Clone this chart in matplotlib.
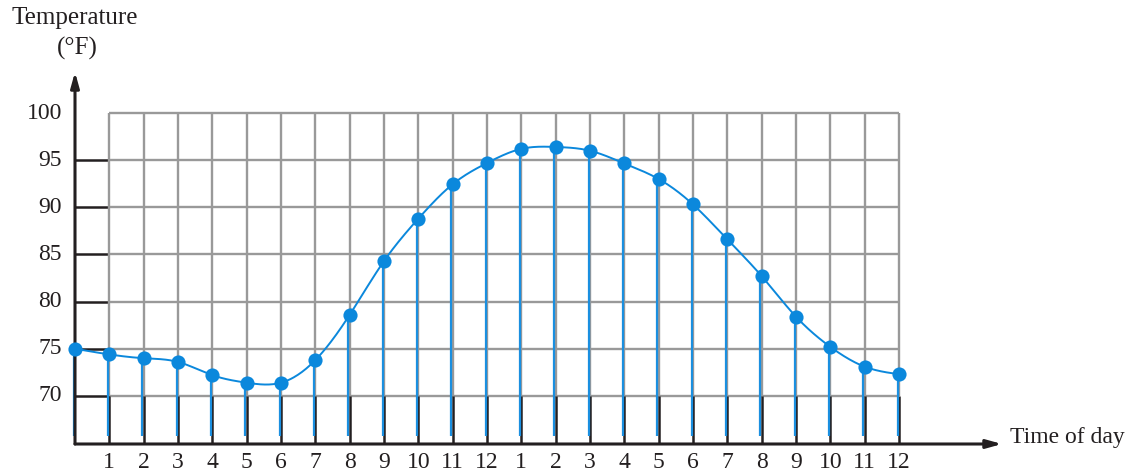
import numpy as np
import matplotlib
matplotlib.use("Agg")
import matplotlib.pyplot as plt
from matplotlib.transforms import offset_copy

# ---- data ----
hours = list(range(25))
temps = [75.0, 74.4, 74.0, 73.6, 72.2, 71.4, 71.4, 73.8, 78.6, 84.3, 88.8, 92.45,
         94.7, 96.2, 96.4, 96.0, 94.65, 93.0, 90.3, 86.6, 82.7, 78.4, 75.2, 73.1, 72.3]
xtick_labels = [str(h) for h in range(1, 13)] + [str(h) for h in range(1, 13)]
yticks = [70, 75, 80, 85, 90, 95, 100]

plt.rcParams['font.family'] = ['Liberation Serif', 'DejaVu Serif']

BLUE = '#0b88dc'
STEM = '#1a8fe0'
GRAY = '#999999'
BLACK = '#231f20'
FS = 17

W, H = 1128, 471
fig = plt.figure(figsize=(W / 100, H / 100), dpi=100)
x0px, x1px = 75, 1002
ybot_px, ytop_px = 444, 72
ax = fig.add_axes([x0px / W, (H - ybot_px) / H, (x1px - x0px) / W, (ybot_px - ytop_px) / H])
ymin, ymax = 64.9, 104.35
xmax = 24 + (x1px - 899) / ((899 - 75) / 24)
ax.set_xlim(0, xmax)
ax.set_ylim(ymin, ymax)
ax.axis('off')

x = np.array(hours, dtype=float)
y = np.array(temps, dtype=float)
ylo, yhi = yticks[0], yticks[-1]

# grid
for yy in yticks:
    ax.plot([1, 24], [yy, yy], color=GRAY, lw=1.7, zorder=1, solid_capstyle='butt')
    if yy < yhi:
        ax.plot([0, 1], [yy, yy], color=BLACK, lw=1.8, zorder=1, solid_capstyle='butt')
for xx in range(1, 25):
    ax.plot([xx, xx], [ylo, yhi], color=GRAY, lw=1.7, zorder=1, solid_capstyle='butt')
    ax.plot([xx, xx], [ymin, ylo], color=BLACK, lw=1.8, zorder=1, solid_capstyle='butt')

# axes with arrows
ax.annotate('', xy=(xmax, ymin), xytext=(0, ymin),
            arrowprops=dict(arrowstyle='-|>,head_length=0.9,head_width=0.25', color=BLACK, lw=2.2,
                            shrinkA=0, shrinkB=0), annotation_clip=False, zorder=5)
ax.annotate('', xy=(0, ymax), xytext=(0, ymin),
            arrowprops=dict(arrowstyle='-|>,head_length=0.9,head_width=0.25', color=BLACK, lw=2.2,
                            shrinkA=0, shrinkB=0), annotation_clip=False, zorder=5)

# stems (slightly offset left of the grid lines, as in the original)
stem_tr = offset_copy(ax.transData, fig=fig, x=-1.3, y=0, units='dots')
for xi, yi in zip(x, y):
    ax.plot([xi, xi], [65.8, yi], color=STEM, lw=1.6, zorder=3, solid_capstyle='butt',
            transform=stem_tr, clip_on=False)

# smooth curve (natural cubic spline through data)
def natural_spline(xk, yk, xs):
    n = len(xk)
    h = np.diff(xk)
    A = np.zeros((n, n))
    r = np.zeros(n)
    A[0, 0] = A[-1, -1] = 1
    for i in range(1, n - 1):
        A[i, i - 1] = h[i - 1]
        A[i, i] = 2 * (h[i - 1] + h[i])
        A[i, i + 1] = h[i]
        r[i] = 3 * ((yk[i + 1] - yk[i]) / h[i] - (yk[i] - yk[i - 1]) / h[i - 1])
    c = np.linalg.solve(A, r)
    b = np.zeros(n - 1)
    d = np.zeros(n - 1)
    for i in range(n - 1):
        b[i] = (yk[i + 1] - yk[i]) / h[i] - h[i] * (2 * c[i] + c[i + 1]) / 3
        d[i] = (c[i + 1] - c[i]) / (3 * h[i])
    idx = np.clip(np.searchsorted(xk, xs) - 1, 0, n - 2)
    t = xs - xk[idx]
    return yk[idx] + b[idx] * t + c[idx] * t ** 2 + d[idx] * t ** 3

xs = np.linspace(x[0], x[-1], 600)
ax.plot(xs, natural_spline(x, y, xs), color=BLUE, lw=1.4, zorder=4, clip_on=False)
ax.plot(x, y, 'o', color=BLUE, ms=10.2, zorder=6, markeredgewidth=0, clip_on=False)

# tick labels
for xx, lab in zip(range(1, 25), xtick_labels):
    ax.text(xx, ymin - 0.8, lab, ha='center', va='top', fontsize=FS, color=BLACK)
for yy in yticks:
    ax.text(-0.38, yy, str(yy), ha='right', va='center', fontsize=FS, color=BLACK)

# axis titles
fig.text(75 / W, 1 - 18 / H, 'Temperature', ha='center', va='center', fontsize=18, color=BLACK)
fig.text(77 / W, 1 - 48 / H, '(°F)', ha='center', va='center', fontsize=18, color=BLACK)
fig.text(1010 / W, 1 - 437 / H, 'Time of day', ha='left', va='center', fontsize=FS, color=BLACK)

fig.savefig('out.png', dpi=100)
